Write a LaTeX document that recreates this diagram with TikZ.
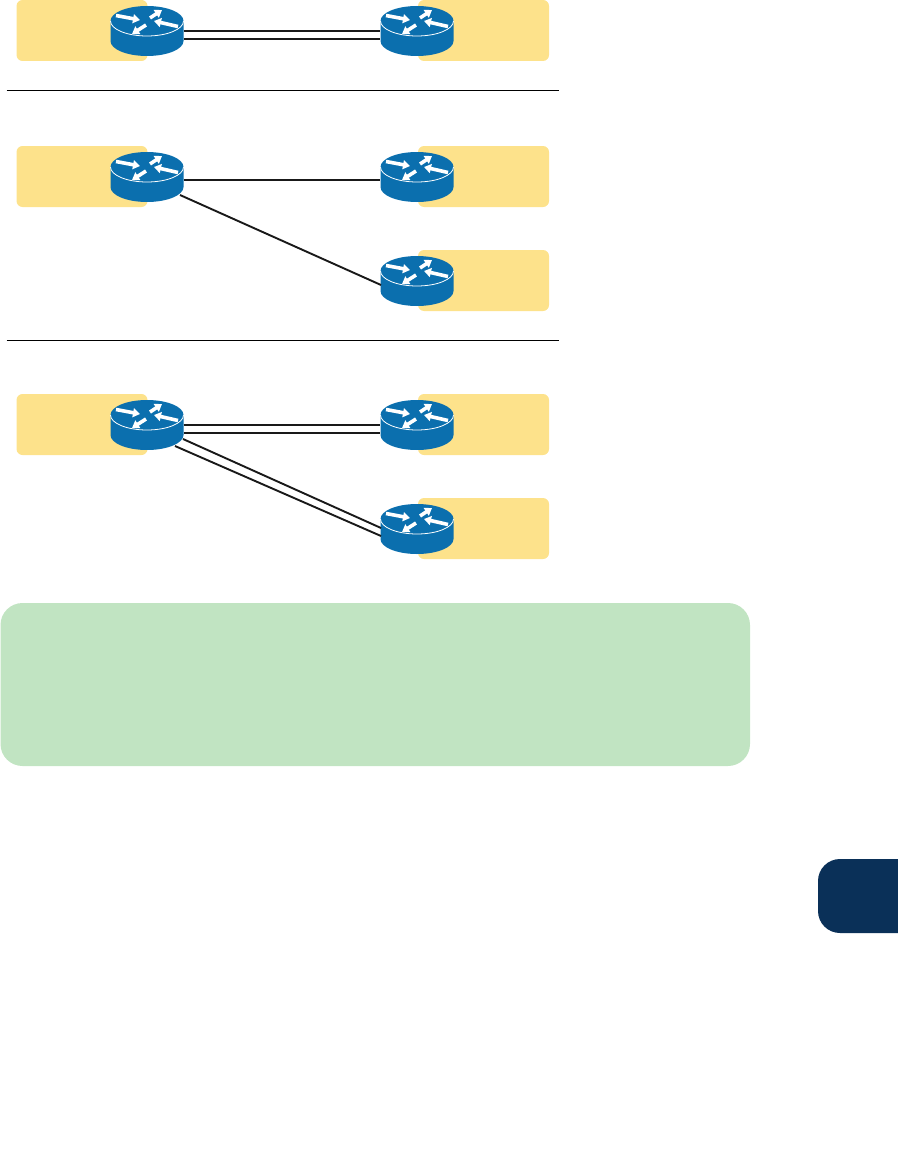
\documentclass[tikz,border=0pt]{standalone}
\usepackage{xcolor}
\usetikzlibrary{arrows.meta, positioning, calc}
\definecolor{sitegold}{HTML}{FDE28B}
\definecolor{routerblue}{HTML}{0B6FAE}
\definecolor{notegreen}{HTML}{C1E4C2}
\definecolor{tabnavy}{HTML}{0A3058}
\tikzset{
    site/.style={fill=sitegold, rounded corners=6pt, minimum width=131pt, minimum height=61pt, inner sep=0pt},
    link/.style={black!90, line width=1.9pt},
    rule/.style={black, line width=1.9pt},
    flow/.style={-{Triangle[length=7pt, width=9pt]}, white, line width=3.6pt},
    pics/router/.style={code={
        \fill[routerblue] (-36.5,-10) -- (-36.5,10) arc[start angle=180, end angle=0, x radius=36.5, y radius=15]
            -- (36.5,-10) arc[start angle=0, end angle=-180, x radius=36.5, y radius=15] -- cycle;
        \draw[white, line width=0.8pt] (-36.5,-10) arc[start angle=180, end angle=0, x radius=36.5, y radius=15];
        \draw[flow] (-31,-15.5) -- (-7,-11);
        \draw[flow] (3,-13) -- (15,-21);
        \draw[flow] (31,-4.5) -- (7,-10);
        \draw[flow] (-1,-6) -- (-15,3);
        \node[minimum width=73pt, minimum height=50pt, inner sep=0pt] (-box) at (0,0) {};
    }}
}

\begin{document}
\begin{tikzpicture}[x=1pt, y=-1pt]
    \useasboundingbox (0,0) rectangle (897,1153);
    % Sites
    \foreach \name/\x/\y in {sa/82/30.5, sb/483.5/30.5, sc/82/176.5, sd/483.5/176.5, se/483.5/280.5, sf/82/424.5, sg/483.5/424.5, sh/483.5/528.5}
        \node[site] (\name) at (\x,\y) {};
    % Routers
    \foreach \name/\x/\y in {ra/147/31, rb/417/31, rc/147/177, rd/417/177, re/417/281, rf/147/425, rg/417/425, rh/417/529}
        \pic (\name) at (\x,\y) {router};
    % Top pair
    \draw[link] (ra-box.east) -- (rb-box.west);
    \draw[link] ([yshift=-8pt]ra-box.east) -- ([yshift=-8pt]rb-box.west);
    % Middle group
    \draw[link] ([yshift=-3pt]rc-box.east) -- ([yshift=-3pt]rd-box.west);
    \draw[link] ([shift={(33,18)}]rc-box.center) -- ([shift={(-36,4)}]re-box.center);
    % Bottom group
    \draw[link] (rf-box.east) -- (rg-box.west);
    \draw[link] ([yshift=-8pt]rf-box.east) -- ([yshift=-8pt]rg-box.west);
    \draw[link] ([shift={(36,14)}]rf-box.center) -- ([shift={(-36,-1)}]rh-box.center);
    \draw[link] ([shift={(28,21)}]rf-box.center) -- ([shift={(-36,7)}]rh-box.center);
    % Separators
    \coordinate (ruleaw) at (6.5,90.5);
    \coordinate (ruleae) at (558.5,90.5);
    \coordinate (rulebw) at (6.5,340.5);
    \coordinate (rulebe) at (558.5,340.5);
    \draw[rule] (ruleaw) -- (ruleae);
    \draw[rule] (rulebw) -- (rulebe);
    % Note panel
    \fill[notegreen, rounded corners=22pt] (0.5,603) rectangle (750,766);
    % Side tab
    \fill[tabnavy, rounded corners=22pt] (940,859) -- (818,859) -- (818,933) -- (940,933) -- cycle;
\end{tikzpicture}
\end{document}
